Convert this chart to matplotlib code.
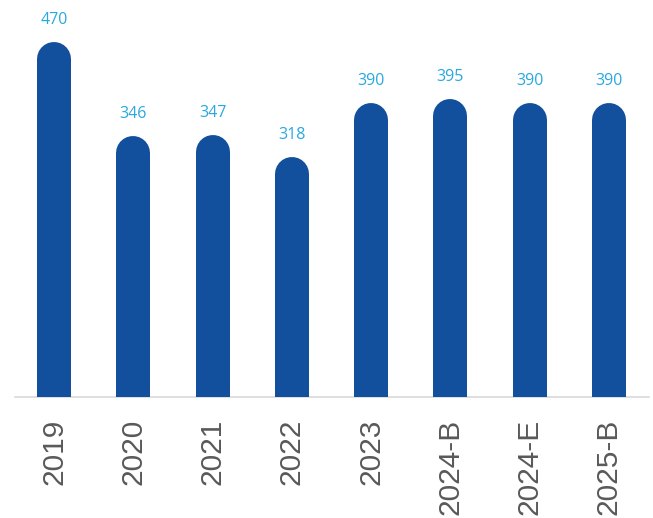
import matplotlib
matplotlib.use("Agg")
import matplotlib.pyplot as plt

categories = ["2019", "2020", "2021", "2022", "2023", "2024-B", "2024-E", "2025-B"]
values = [470, 346, 347, 318, 390, 395, 390, 390]

DPI = 100
fig = plt.figure(figsize=(6.53, 5.18), dpi=DPI)
W, H = 653, 518
left_px, right_px = 14.5, 648.5
base_px = 397
ax = fig.add_axes([left_px / W, (H - base_px) / H, (right_px - left_px) / W, base_px / H])

ymax = 526
ax.set_xlim(-0.5, len(categories) - 0.5)
ax.set_ylim(0, ymax)

bar_px = 34
lw_pt = bar_px * 72 / DPI
r_units = (bar_px / 2) * ymax / base_px
bar_color = "#124F9D"
for i, v in enumerate(values):
    ax.plot([i, i], [-50, v - r_units], color=bar_color, linewidth=lw_pt,
            solid_capstyle="round", clip_on=True)
    ax.annotate(f"{v}", xy=(i, v), xytext=(0, 22 * 72 / DPI), textcoords="offset points",
                ha="center", va="center", color="#29A8E0", fontsize=11.5,
                family="Open Sans", annotation_clip=False)

ax.set_xticks(range(len(categories)))
ax.set_xticklabels(categories, rotation=90, fontsize=21.5, color="#595959",
                   family="Liberation Sans")
ax.tick_params(axis="x", length=0, pad=15.5)
ax.set_yticks([])
for s in ["top", "left", "right"]:
    ax.spines[s].set_visible(False)
ax.spines["bottom"].set_color("#D9D9D9")
ax.spines["bottom"].set_linewidth(1.2)
ax.spines["bottom"].set_zorder(0)

fig.savefig("out.png", dpi=DPI)
